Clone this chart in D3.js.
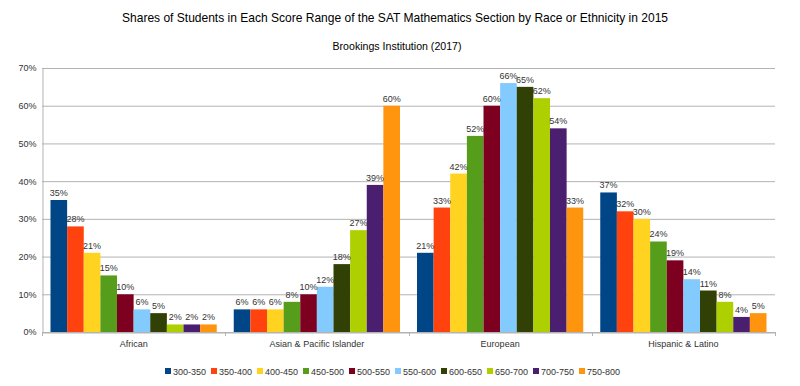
<!DOCTYPE html>
<html><head><meta charset="utf-8">
<script src="https://cdn.jsdelivr.net/npm/d3@7"></script>
<style>body{margin:0;background:#fff}text{font-family:"Liberation Sans",Arial,sans-serif}</style>
</head><body><svg id="c" width="800" height="386"></svg>
<script>
const categories = ["African", "Asian & Pacific Islander", "European", "Hispanic & Latino"];
const series = ["300-350","350-400","400-450","450-500","500-550","550-600","600-650","650-700","700-750","750-800"];
const african  = [35, 28, 21, 15, 10, 6, 5, 2, 2, 2];
const asian    = [6, 6, 6, 8, 10, 12, 18, 27, 39, 60];
const european = [21, 33, 42, 52, 60, 66, 65, 62, 54, 33];
const hispanic = [37, 32, 30, 24, 19, 14, 11, 8, 4, 5];
const yTicks = [0, 10, 20, 30, 40, 50, 60, 70];
const colors = ["#004586","#ff420e","#ffd320","#579d1c","#7e0021","#83caff","#314004","#aecf00","#4b1f6f","#ff950e"];
const values = [african, asian, european, hispanic];

(function(){
const svg = d3.select("#c");
const pL = 42, pR = 775, pT = 68, pB = 332;
const x0 = d3.scaleBand().domain(categories).range([pL, pR]);
const x1 = d3.scaleBand().domain(series).range([8.5, x0.bandwidth() - 8.5]);
const y = d3.scaleLinear().domain([0, 70]).range([pB, pT]);
const color = d3.scaleOrdinal().domain(series).range(colors);

svg.append("text").attr("x", 395).attr("y", 22).attr("text-anchor", "middle")
  .attr("font-size", 13).attr("fill", "#000")
  .attr("textLength", 546).attr("lengthAdjust", "spacingAndGlyphs")
  .text("Shares of Students in Each Score Range of the SAT Mathematics Section by Race or Ethnicity in 2015");
svg.append("text").attr("x", 397).attr("y", 50).attr("text-anchor", "middle")
  .attr("font-size", 11).attr("fill", "#000")
  .attr("textLength", 129).attr("lengthAdjust", "spacingAndGlyphs")
  .text("Brookings Institution (2017)");

svg.append("g").selectAll("line").data(yTicks).join("line")
  .attr("x1", pL).attr("x2", pR).attr("y1", d => y(d) + 0.5).attr("y2", d => y(d) + 0.5)
  .attr("stroke", "#b3b3b3").attr("stroke-width", 1);

const ya = svg.append("g").attr("transform", `translate(${pL + 0.5},0)`)
  .call(d3.axisLeft(y).tickValues(yTicks).tickSize(0).tickPadding(6).tickFormat(d => d + "%"));
ya.select(".domain").attr("stroke", "#b3b3b3");
ya.selectAll("text").attr("font-size", 9).attr("fill", "#333").attr("font-family", "Liberation Sans, Arial, sans-serif");
svg.append("line").attr("x1", pL + 0.5).attr("x2", pL + 0.5).attr("y1", pB).attr("y2", pB + 3).attr("stroke", "#b3b3b3");

const xa = svg.append("g").attr("transform", `translate(0,${pB + 0.5})`)
  .call(d3.axisBottom(x0).tickSize(0).tickPadding(8));
xa.select(".domain").attr("stroke", "#b3b3b3");
xa.selectAll("text").attr("font-size", 9).attr("fill", "#333").attr("font-family", "Liberation Sans, Arial, sans-serif");
svg.append("g").selectAll("line").data(categories.concat([null])).join("line")
  .attr("x1", (d, i) => Math.round(pL + i * x0.bandwidth()) + 0.5)
  .attr("x2", (d, i) => Math.round(pL + i * x0.bandwidth()) + 0.5)
  .attr("y1", pB).attr("y2", pB + 4).attr("stroke", "#b3b3b3");

const groups = svg.append("g").selectAll("g").data(categories).join("g")
  .attr("transform", d => `translate(${x0(d)},0)`);
groups.selectAll("rect").data((c, i) => series.map((s, j) => ({s, v: values[i][j]}))).join("rect")
  .attr("x", d => x1(d.s)).attr("width", x1.bandwidth())
  .attr("y", d => y(d.v)).attr("height", d => pB - y(d.v))
  .attr("fill", d => color(d.s));
groups.selectAll("text").data((c, i) => series.map((s, j) => ({s, v: values[i][j]}))).join("text")
  .attr("x", d => x1(d.s) + x1.bandwidth() / 2).attr("y", d => y(d.v) - 4)
  .attr("text-anchor", "middle").attr("font-size", 9).attr("fill", "#333")
  .text(d => d.v + "%");

const lg = svg.append("g").selectAll("g").data(series).join("g")
  .attr("transform", (d, i) => `translate(${165 + i * 46},371)`);
lg.append("rect").attr("x", 0).attr("y", -3).attr("width", 6).attr("height", 6).attr("fill", d => color(d));
lg.append("text").attr("x", 8).attr("y", 3.5).attr("font-size", 9).attr("fill", "#333").text(d => d);
})();
</script></body></html>
